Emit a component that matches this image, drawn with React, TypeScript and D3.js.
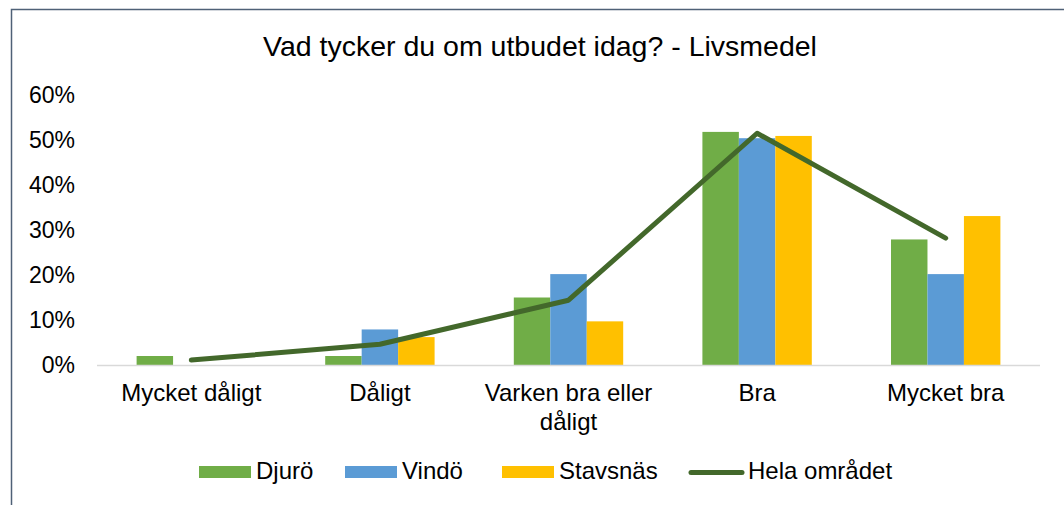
import React from "react";
import * as d3 from "d3";

const categories = ["Mycket dåligt", "Dåligt", "Varken bra eller dåligt", "Bra", "Mycket bra"];
const categoryLines = [["Mycket dåligt"], ["Dåligt"], ["Varken bra eller", "dåligt"], ["Bra"], ["Mycket bra"]];
const djuro = [0.02, 0.02, 0.15, 0.518, 0.279];
const vindo = [0, 0.079, 0.202, 0.504, 0.202];
const stavsnas = [0, 0.062, 0.097, 0.509, 0.331];
const hela = [0.011, 0.046, 0.144, 0.515, 0.282];
const yTicks = [0, 0.1, 0.2, 0.3, 0.4, 0.5, 0.6];
const seriesNames = ["Djurö", "Vindö", "Stavsnäs"];
const lineName = "Hela området";

const W = 1064;
const H = 505;
const colors = ["#70AD47", "#5B9BD5", "#FFC000"];
const lineColor = "#43682B";
const font = "'Liberation Sans', Arial, sans-serif";

export default function App() {
  const x = d3.scaleBand<string>().domain(categories).range([97, 1040]).paddingInner(0).paddingOuter(0);
  const y = d3.scaleLinear().domain([0, 0.6]).range([365, 95]);
  const groupW = x.bandwidth() * 0.58;
  const xs = d3.scaleBand<string>().domain(seriesNames).range([0, groupW]);
  const bars = [djuro, vindo, stavsnas];
  const line = d3
    .line<number>()
    .x((_, i) => (x(categories[i]) as number) + x.bandwidth() / 2)
    .y((d) => y(d));

  const legendItems = [
    { name: seriesNames[0], sx: 199, tx: 256, color: colors[0] },
    { name: seriesNames[1], sx: 345, tx: 402, color: colors[1] },
    { name: seriesNames[2], sx: 502, tx: 559, color: colors[2] },
  ];

  return (
    <svg width={W} height={H} style={{ position: "absolute", left: 0, top: 0, background: "#fff" }} fontFamily={font}>
      <rect x={0} y={0} width={W} height={H} fill="#fff" />
      <path d={`M11.5,${H} V9.5 H${W}`} fill="none" stroke="#4F6177" strokeWidth={1.5} />
      <text x={540} y={56} textAnchor="middle" fontSize={28.5} fill="#000">
        Vad tycker du om utbudet idag? - Livsmedel
      </text>
      {yTicks.map((t) => (
        <text key={t} x={75} y={y(t) + 8.3} textAnchor="end" fontSize={23} fill="#000">
          {d3.format(".0%")(t)}
        </text>
      ))}
      {bars.map((vals, si) =>
        vals.map((v, ci) => {
          const cx = (x(categories[ci]) as number) + x.bandwidth() / 2 - groupW / 2 + (xs(seriesNames[si]) as number);
          return v > 0 ? (
            <rect key={`${si}-${ci}`} x={cx} y={y(v)} width={xs.bandwidth()} height={y(0) - y(v)} fill={colors[si]} />
          ) : null;
        })
      )}
      <line x1={97} x2={1040} y1={y(0) + 0.5} y2={y(0) + 0.5} stroke="#D9D9D9" strokeWidth={1.5} />
      <path d={line(hela) || ""} fill="none" stroke={lineColor} strokeWidth={5} strokeLinecap="round" strokeLinejoin="round" />
      {categoryLines.map((lines, ci) =>
        lines.map((l, li) => (
          <text
            key={`${ci}-${li}`}
            x={(x(categories[ci]) as number) + x.bandwidth() / 2}
            y={401 + li * 29}
            textAnchor="middle"
            fontSize={24}
            fill="#000"
          >
            {l}
          </text>
        ))
      )}
      {legendItems.map((it) => (
        <g key={it.name}>
          <rect x={it.sx} y={466} width={52} height={12} fill={it.color} />
          <text x={it.tx} y={479} fontSize={24} fill="#000">
            {it.name}
          </text>
        </g>
      ))}
      <line x1={691} x2={742} y1={472.5} y2={472.5} stroke={lineColor} strokeWidth={5} strokeLinecap="round" />
      <text x={748} y={479} fontSize={24} fill="#000">
        {lineName}
      </text>
    </svg>
  );
}
